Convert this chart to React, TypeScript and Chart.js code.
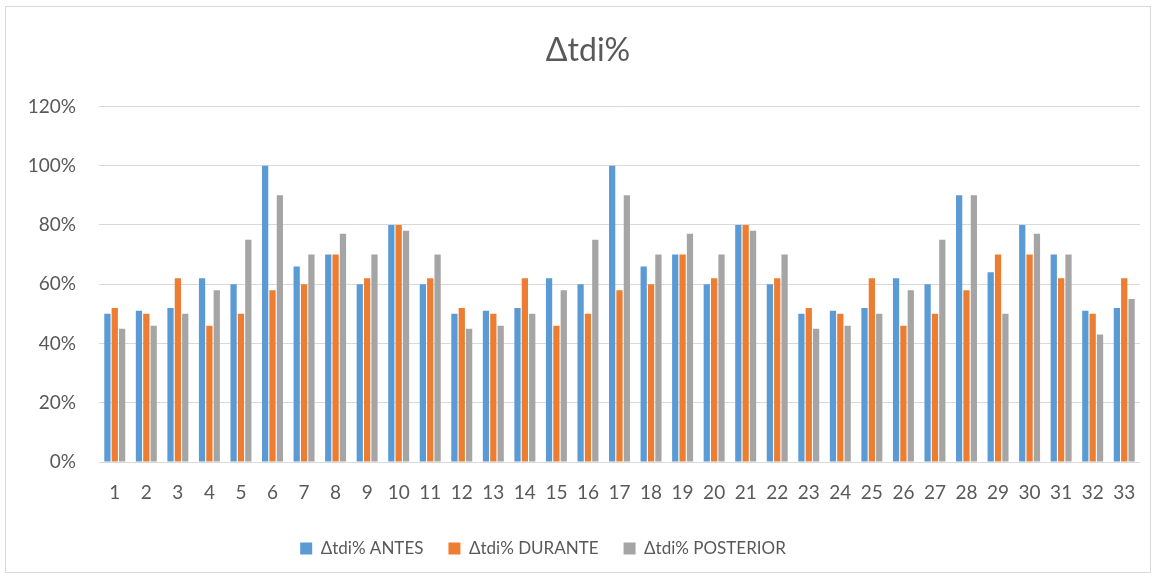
import React, { useEffect, useRef } from "react";
import { Chart, registerables } from "chart.js";

Chart.register(...registerables);

const categories = Array.from({ length: 33 }, (_, i) => String(i + 1));
const antes = [50, 51, 52, 62, 60, 100, 66, 70, 60, 80, 60, 50, 51, 52, 62, 60, 100, 66, 70, 60, 80, 60, 50, 51, 52, 62, 60, 90, 64, 80, 70, 51, 52];
const durante = [52, 50, 62, 46, 50, 58, 60, 70, 62, 80, 62, 52, 50, 62, 46, 50, 58, 60, 70, 62, 80, 62, 52, 50, 62, 46, 50, 58, 70, 70, 62, 50, 62];
const posterior = [45, 46, 50, 58, 75, 90, 70, 77, 70, 78, 70, 45, 46, 50, 58, 75, 90, 70, 77, 70, 78, 70, 45, 46, 50, 58, 75, 90, 50, 77, 70, 43, 55];
const yTicks = [0, 20, 40, 60, 80, 100, 120];

const FONT = "Lato, 'Open Sans', sans-serif";
const TXT = "#595959";

const shiftBoxes = {
  id: "shiftBoxes",
  afterLayout(chart: any) {
    const lg = chart.legend;
    if (lg) { lg.left -= 27; lg.right -= 27; }
    const tb = chart.titleBlock;
    if (tb) { tb.left += 18; tb.right += 18; }
  },
};

export default function App() {
  const ref = useRef<HTMLCanvasElement>(null);
  useEffect(() => {
    document.body.style.margin = "0";
    const ctx = ref.current!.getContext("2d")!;
    const chart = new Chart(ctx, {
      type: "bar",
      data: {
        labels: categories,
        datasets: [
          { label: "Δtdi% ANTES", data: antes, backgroundColor: "#5B9BD5" },
          { label: "Δtdi% DURANTE", data: durante, backgroundColor: "#ED7D31" },
          { label: "Δtdi% POSTERIOR", data: posterior, backgroundColor: "#A5A5A5" },
        ],
      },
      plugins: [shiftBoxes],
      options: {
        animation: false,
        responsive: false,
        maintainAspectRatio: false,
        datasets: { bar: { categoryPercentage: 0.7, barPercentage: 0.85 } },
        layout: { padding: { left: 0, right: 19, top: 0, bottom: 10 } },
        plugins: {
          title: {
            display: true,
            text: "Δtdi%",
            color: TXT,
            font: { family: FONT, size: 32, weight: "normal" },
            padding: { top: 31, bottom: 37 },
          },
          legend: {
            position: "bottom",
            labels: {
              color: TXT,
              font: { family: FONT, size: 17 },
              boxWidth: 12,
              boxHeight: 12,
              padding: 25,
            },
          },
          tooltip: { enabled: false },
        },
        scales: {
          x: {
            afterFit: (s: any) => { s.height = 53; },
            grid: { display: false },
            border: { display: false },
            ticks: { color: TXT, font: { family: FONT, size: 19 }, padding: 11, maxRotation: 0, autoSkip: false },
          },
          y: {
            min: 0,
            max: 120,
            afterFit: (s: any) => { s.width = 99; },
            afterBuildTicks: (s: any) => { s.ticks = yTicks.map((v) => ({ value: v })); },
            grid: { color: "#D9D9D9", lineWidth: 1, drawTicks: false },
            border: { display: false },
            ticks: {
              color: TXT,
              font: { family: FONT, size: 19 },
              padding: 23,
              callback: (v: any) => v + "%",
            },
          },
        },
      },
    });
    return () => chart.destroy();
  }, []);
  return (
    <div style={{ position: "relative", width: 1159, height: 577, background: "#fff" }}>
      <canvas ref={ref} width={1159} height={577} style={{ position: "absolute", left: 0, top: 0 }} />
      <div
        style={{
          position: "absolute",
          left: 5,
          top: 6,
          width: 1144,
          height: 565,
          border: "1px solid #D9D9D9",
          pointerEvents: "none",
        }}
      />
    </div>
  );
}
